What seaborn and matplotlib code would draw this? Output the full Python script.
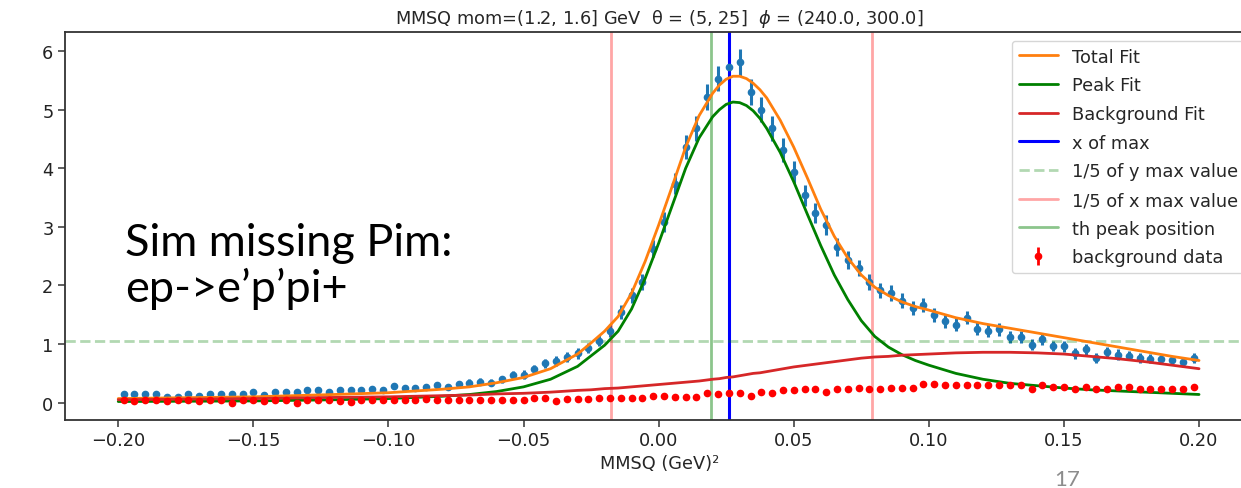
import numpy as np
import matplotlib
matplotlib.use("Agg")
import matplotlib.pyplot as plt
import seaborn as sns

# ---------------- data ----------------
bin_edges = np.linspace(-0.2, 0.2, 101)
bin_centers = (bin_edges[:-1] + bin_edges[1:]) / 2

signal_counts = [
    0.15, 0.15, 0.15, 0.15, 0.10, 0.10, 0.15, 0.12, 0.15, 0.15,
    0.15, 0.15, 0.18, 0.13, 0.19, 0.18, 0.18, 0.21, 0.22, 0.18,
    0.21, 0.22, 0.21, 0.24, 0.22, 0.28, 0.25, 0.25, 0.27, 0.30,
    0.27, 0.32, 0.34, 0.36, 0.34, 0.40, 0.47, 0.48, 0.58, 0.67,
    0.71, 0.78, 0.84, 0.93, 1.06, 1.23, 1.55, 1.83, 2.06, 2.63,
    3.08, 3.74, 4.36, 4.68, 5.22, 5.53, 5.73, 5.81, 5.30, 5.00,
    4.68, 4.31, 3.94, 3.54, 3.23, 3.03, 2.66, 2.43, 2.30, 2.06,
    1.92, 1.87, 1.74, 1.62, 1.66, 1.49, 1.39, 1.33, 1.45, 1.26,
    1.23, 1.25, 1.12, 1.12, 0.99, 1.09, 0.97, 0.96, 0.84, 0.91,
    0.76, 0.86, 0.82, 0.80, 0.76, 0.75, 0.74, 0.72, 0.69, 0.76,
]
signal_err = [
    0.04, 0.04, 0.04, 0.04, 0.03, 0.03, 0.04, 0.03, 0.04, 0.04,
    0.04, 0.04, 0.04, 0.03, 0.04, 0.04, 0.04, 0.04, 0.04, 0.04,
    0.04, 0.04, 0.04, 0.05, 0.04, 0.05, 0.05, 0.05, 0.05, 0.05,
    0.05, 0.05, 0.06, 0.06, 0.06, 0.06, 0.07, 0.07, 0.07, 0.08,
    0.08, 0.08, 0.09, 0.09, 0.10, 0.11, 0.12, 0.13, 0.14, 0.15,
    0.17, 0.18, 0.20, 0.21, 0.22, 0.22, 0.23, 0.23, 0.22, 0.21,
    0.21, 0.20, 0.19, 0.18, 0.17, 0.17, 0.15, 0.15, 0.14, 0.14,
    0.13, 0.13, 0.13, 0.12, 0.12, 0.12, 0.11, 0.11, 0.11, 0.11,
    0.11, 0.11, 0.10, 0.10, 0.09, 0.10, 0.09, 0.09, 0.09, 0.09,
    0.08, 0.09, 0.09, 0.08, 0.08, 0.08, 0.08, 0.08, 0.08, 0.08,
]
bkg_counts = [
    0.04, 0.03, 0.04, 0.04, 0.03, 0.04, 0.04, 0.03, 0.04, 0.04,
    0.00, 0.04, 0.04, 0.03, 0.04, 0.04, -0.01, 0.04, 0.04, 0.04,
    0.03, 0.01, 0.04, 0.04, 0.05, 0.04, 0.04, 0.05, 0.06, 0.04,
    0.04, 0.04, 0.04, 0.04, 0.04, 0.04, 0.04, 0.04, 0.08, 0.08,
    0.03, 0.07, 0.07, 0.07, 0.08, 0.08, 0.08, 0.08, 0.08, 0.12,
    0.12, 0.10, 0.10, 0.10, 0.17, 0.14, 0.17, 0.17, 0.12, 0.19,
    0.17, 0.21, 0.21, 0.23, 0.23, 0.19, 0.23, 0.23, 0.25, 0.23,
    0.23, 0.25, 0.25, 0.25, 0.32, 0.32, 0.30, 0.30, 0.30, 0.30,
    0.30, 0.30, 0.30, 0.30, 0.23, 0.30, 0.27, 0.27, 0.23, 0.27,
    0.24, 0.24, 0.27, 0.27, 0.24, 0.24, 0.24, 0.24, 0.24, 0.27,
]
bkg_err = 0.02

fit_x = [-0.2, -0.15, -0.12, -0.1, -0.08, -0.07, -0.06, -0.05, -0.04, -0.03,
         -0.025, -0.02, -0.015, -0.01, -0.005, 0.0, 0.005, 0.01, 0.015, 0.02,
         0.0225, 0.025, 0.0275, 0.03, 0.0325, 0.035, 0.0375, 0.04, 0.045, 0.05,
         0.055, 0.06, 0.065, 0.07, 0.075, 0.08, 0.085, 0.09, 0.095, 0.1,
         0.11, 0.12, 0.13, 0.14, 0.15, 0.16, 0.17, 0.18, 0.19, 0.2]
total_fit = [0.07, 0.10, 0.14, 0.17, 0.23, 0.27, 0.34, 0.43, 0.58, 0.83,
             1.02, 1.22, 1.47, 1.87, 2.41, 3.03, 3.69, 4.36, 4.90, 5.28,
             5.42, 5.52, 5.57, 5.57, 5.53, 5.45, 5.34, 5.20, 4.82, 4.36,
             3.84, 3.30, 2.84, 2.47, 2.18, 1.97, 1.83, 1.72, 1.64, 1.58,
             1.45, 1.35, 1.27, 1.19, 1.11, 1.03, 0.95, 0.87, 0.79, 0.72]
peak_fit = [0.02, 0.03, 0.05, 0.07, 0.11, 0.14, 0.19, 0.27, 0.40, 0.62,
            0.80, 0.98, 1.22, 1.60, 2.12, 2.72, 3.36, 4.00, 4.52, 4.88,
            5.00, 5.09, 5.13, 5.12, 5.07, 4.98, 4.85, 4.68, 4.27, 3.77,
            3.22, 2.68, 2.18, 1.76, 1.40, 1.13, 0.95, 0.82, 0.72, 0.64,
            0.50, 0.40, 0.33, 0.29, 0.25, 0.22, 0.20, 0.18, 0.16, 0.14]
bkg_fit = [0.05, 0.07, 0.09, 0.10, 0.12, 0.13, 0.15, 0.16, 0.18, 0.21,
           0.22, 0.24, 0.25, 0.27, 0.29, 0.31, 0.33, 0.35, 0.37, 0.40,
           0.41, 0.43, 0.44, 0.46, 0.48, 0.50, 0.51, 0.53, 0.57, 0.61,
           0.64, 0.67, 0.70, 0.73, 0.76, 0.78, 0.79, 0.81, 0.82, 0.83,
           0.85, 0.86, 0.86, 0.85, 0.83, 0.79, 0.75, 0.70, 0.64, 0.58]

x_of_max = 0.026
th_peak_position = 0.0195
fifth_x_values = [-0.0177, 0.0789]
fifth_y_value = 1.045

title = "MMSQ mom=(1.2, 1.6] GeV  θ = (5, 25]  $\\phi$ = (240.0, 300.0]"
xlabel = "MMSQ (GeV)²"
x_ticks = [-0.20, -0.15, -0.10, -0.05, 0.00, 0.05, 0.10, 0.15, 0.20]
y_ticks = [0, 1, 2, 3, 4, 5, 6]
overlay_lines = ["Sim missing Pim:", "ep->e’p’pi+"]
slide_number = "17"

# ---------------- style ----------------
sns.set_theme(style="ticks", rc={
    "axes.edgecolor": "#333333",
    "axes.linewidth": 1.3,
    "xtick.color": "#333333",
    "ytick.color": "#333333",
    "xtick.labelcolor": "#222222",
    "ytick.labelcolor": "#222222",
    "xtick.major.size": 5,
    "ytick.major.size": 5,
    "xtick.major.width": 1.1,
    "ytick.major.width": 1.1,
})
plt.rcParams["font.family"] = ["DejaVu Sans"]
FS = 12.8

fig = plt.figure(figsize=(12.41, 4.89), dpi=100)
ax = fig.add_axes([0.0526, 0.1397, 0.958, 0.7934])

# signal data (no legend)
ax.errorbar(bin_centers, signal_counts, yerr=signal_err, fmt=".",
            color="tab:blue", ms=9, elinewidth=2.2, zorder=2)

# fits
sns.lineplot(x=fit_x, y=total_fit, ax=ax, color="tab:orange", lw=2.0,
             label="Total Fit", zorder=3)
sns.lineplot(x=fit_x, y=peak_fit, ax=ax, color="green", lw=2.0,
             label="Peak Fit", zorder=3)
sns.lineplot(x=fit_x, y=bkg_fit, ax=ax, color="tab:red", lw=2.0,
             label="Background Fit", zorder=3)

ax.axvline(x_of_max, color="blue", lw=2.2, label="x of max")
ax.axhline(fifth_y_value, color="green", alpha=0.3, lw=2.0, ls="--",
           label="1/5 of y max value")
ax.axvline(fifth_x_values[0], color="red", alpha=0.35, lw=2.0,
           label="1/5 of x max value")
ax.axvline(fifth_x_values[1], color="red", alpha=0.35, lw=2.0)
ax.axvline(th_peak_position, color="green", alpha=0.45, lw=2.0,
           label="th peak position")

ax.errorbar(bin_centers, bkg_counts, yerr=bkg_err, fmt=".", color="red",
            ms=9, elinewidth=2.0, label="background data", zorder=4)

ax.set_xlim(-0.2196, 0.2204)
ax.set_ylim(-0.29, 6.33)
ax.set_xticks(x_ticks)
ax.set_xticklabels([f"{t:.2f}".replace("-", "\u2212") for t in x_ticks])
ax.set_yticks(y_ticks)
ax.set_yticklabels([str(t) for t in y_ticks])
ax.tick_params(labelsize=FS)
ax.set_title(title, fontsize=FS, pad=6)
ax.set_xlabel(xlabel, fontsize=FS, labelpad=3)
ax.set_ylabel("")

leg = ax.legend(loc="upper right", fontsize=FS, framealpha=0.8,
                edgecolor="#cccccc", fancybox=True, labelspacing=0.6,
                handlelength=2.2)

fig.text(125 / 1241, 1 - 256 / 489, overlay_lines[0], fontsize=32.5,
         family=["Lato", "DejaVu Sans"], color="black", va="baseline",
         ha="left")
fig.text(125 / 1241, 1 - 302 / 489, overlay_lines[1], fontsize=32.5,
         family=["Lato", "DejaVu Sans"], color="black", va="baseline",
         ha="left")
fig.text(1054 / 1241, 1 - 470 / 489, slide_number, fontsize=16,
         family=["Lato", "DejaVu Sans"], color="#8c8c8c", va="top",
         ha="left")

fig.savefig("out.png", dpi=100)
